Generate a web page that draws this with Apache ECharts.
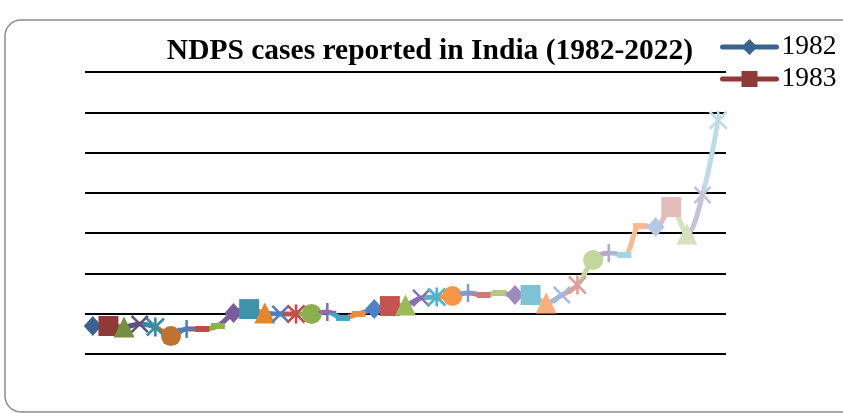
<!DOCTYPE html>
<html>
<head>
<meta charset="utf-8">
<script src="https://cdn.jsdelivr.net/npm/echarts@6/dist/echarts.min.js"></script>
<style>
  html, body { margin: 0; padding: 0; background: #fff; }
  #main { width: 843px; height: 413px; }
</style>
</head>
<body>
<div id="main"></div>
<script>
// years and NDPS cases
var years = [];
for (var y = 1982; y <= 2022; y++) years.push(String(y));

var cases = [13900, 13900, 13400, 14900, 13400, 8900, 12400, 12400, 13900,
  20300, 22300, 20300, 19900, 19900, 19900, 20800, 17900, 19900,
  22300, 23800, 24300, 27800, 28300, 28800, 30300, 29300, 30300,
  29300, 29300, 25300, 29300, 34200, 46700, 50100, 49100, 63500,
  63000, 73000, 59600, 78900, 116100];

var yTicks = [0, 20000, 40000, 60000, 80000, 100000, 120000, 140000];

// excel "vary colors by point" colours
var colors = ['#3b6390', '#8e3b38', '#748e42', '#624d80', '#3a8ca3', '#be7430',
  '#4a7ec0', '#bf4b48', '#8fae4f', '#7a5c9e', '#3c93ab', '#e6852f',
  '#4f7fbf', '#c0504d', '#8db04f', '#8a6bae', '#3fa7c4', '#ee8a3c',
  '#4f82c5', '#c55350', '#9bbb59', '#8a70b0', '#52b3cc', '#f79646',
  '#7a9dd0', '#d07a78', '#b0ca84', '#9e8bbe', '#7fc2d8', '#f9ae7e',
  '#a3b8dc', '#d9a2a1', '#c2d69e', '#b6a9ce', '#a2d4e3', '#fab893',
  '#b8c7e4', '#e3bdbc', '#d4e2be', '#c9c0da', '#bcdde8'];

// marker cycle
var X_PATH = 'path://M1,0L5,4L9,0L10,1L6,5L10,9L9,10L5,6L1,10L0,9L4,5L0,1Z';
var markers = [
  { symbol: 'diamond', size: [18, 20] },
  { symbol: 'rect', size: 20 },
  { symbol: 'triangle', size: 21 },
  { symbol: X_PATH, size: 18 },
  { symbol: X_PATH + 'M4.3,0H5.7V10H4.3Z', size: 19 },
  { symbol: 'circle', size: 20 },
  { symbol: 'path://M4.3,0H5.7V4.3H10V5.7H5.7V10H4.3V5.7H0V4.3H4.3Z', size: 18 },
  { symbol: 'rect', size: [14, 6] },
  { symbol: 'rect', size: [14, 6] }
];

var points = [];
var pieces = [];
for (var i = 0; i < cases.length; i++) {
  var m = markers[i % markers.length];
  points.push({
    value: cases[i],
    symbol: m.symbol,
    symbolSize: m.size,
    itemStyle: { color: colors[i] }
  });
  if (i == 0) pieces.push({ lte: 0, color: colors[0] });
  else pieces.push({ gt: i - 1, lte: i, color: colors[i] });
}

var myChart = echarts.init(document.getElementById('main'));
var option = {
  backgroundColor: '#fff',
  animation: false,
  title: {
    text: 'NDPS cases reported in India (1982-2022)',
    left: 425,
    textAlign: 'center',
    top: 31,
    textStyle: { fontFamily: 'Liberation Serif', fontWeight: 'bold', fontSize: 29.5, color: '#000' }
  },
  legend: {
    data: ['1982', '1983'],
    orient: 'vertical',
    left: 715,
    top: 28,
    itemWidth: 54,
    itemHeight: 20,
    itemGap: 4,
    lineStyle: { width: 5, cap: 'round' },
    textStyle: { fontFamily: 'Liberation Serif', fontSize: 27.5, lineHeight: 26, color: '#000' }
  },
  graphic: [{
    type: 'rect',
    shape: { x: 5, y: 20, width: 860, height: 392, r: 16 },
    style: { fill: 'none', stroke: '#8c8c8c', lineWidth: 1.5 },
    silent: true
  }],
  grid: { left: 85, right: 117, top: 72, bottom: 59 },
  xAxis: {
    type: 'category',
    data: years,
    boundaryGap: true,
    axisLine: { show: false },
    axisTick: { show: false },
    axisLabel: { show: false }
  },
  yAxis: {
    type: 'value',
    min: yTicks[0],
    max: yTicks[yTicks.length - 1],
    interval: 20000,
    axisLine: { show: false },
    axisTick: { show: false },
    axisLabel: { show: false },
    splitLine: { lineStyle: { color: '#000', width: 2 } }
  },
  visualMap: {
    type: 'piecewise',
    show: false,
    dimension: 0,
    seriesIndex: 0,
    pieces: pieces
  },
  series: [
    {
      name: 'cases',
      type: 'line',
      data: points,
      smooth: 0.35,
      showSymbol: true,
      showAllSymbol: true,
      lineStyle: { width: 5 },
      z: 3
    },
    {
      name: '1982',
      type: 'line',
      data: [],
      symbol: 'diamond',
      symbolSize: 16,
      itemStyle: { color: colors[0] },
      lineStyle: { width: 5, color: colors[0] }
    },
    {
      name: '1983',
      type: 'line',
      data: [],
      symbol: 'rect',
      symbolSize: 16,
      itemStyle: { color: colors[1] },
      lineStyle: { width: 5, color: colors[1] }
    }
  ]
};
option && myChart.setOption(option);
</script>
</body>
</html>
